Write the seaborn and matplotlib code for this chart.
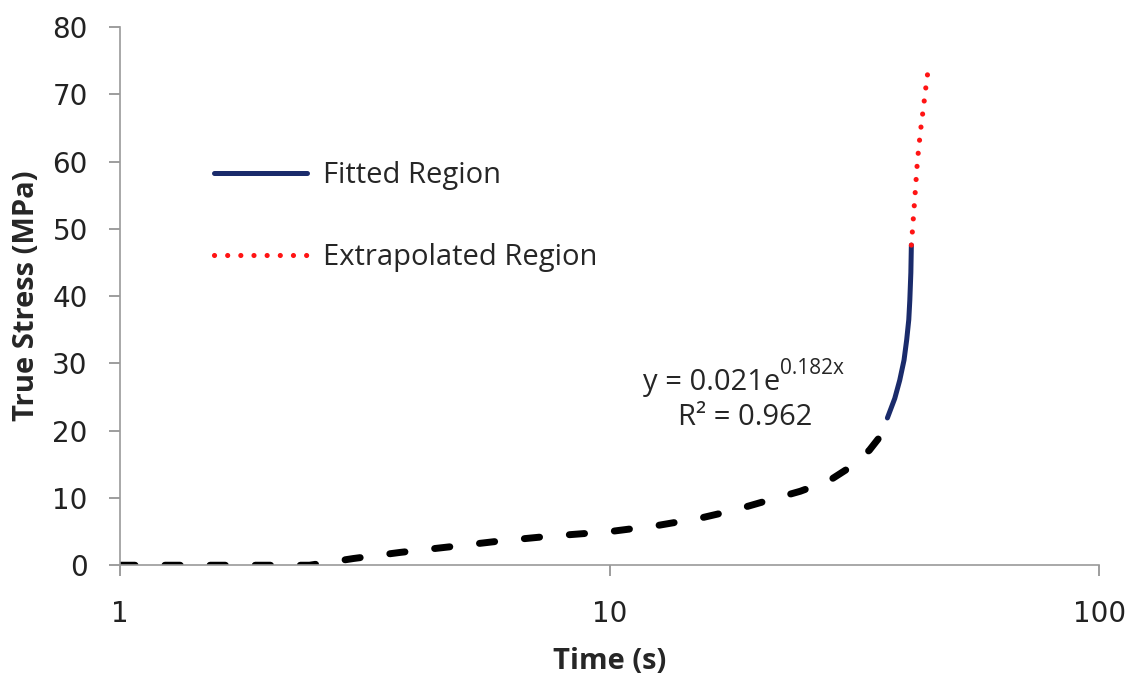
import numpy as np
import pandas as pd
import seaborn as sns
import matplotlib.pyplot as plt

# values
meas_t = [1.0, 1.5, 2.0, 2.44, 3.0, 3.73, 4.8, 5.97, 7.5, 10.0, 12.5, 15.3, 18.0, 21.2, 24.5, 28.1, 31.0, 33.9, 35.8, 37.3]
meas_s = [0.0, 0.0, 0.0, 0.0, 1.0, 1.9, 2.8, 3.6, 4.3, 5.0, 5.9, 7.0, 8.2, 9.7, 11.0, 12.6, 14.6, 17.1, 19.3, 21.6]

fit_t = [36.9, 38.2, 39.1, 39.9, 40.4, 40.8, 41.0, 41.2, 41.3]
fit_s = [21.9, 24.8, 27.5, 30.5, 33.5, 36.5, 39.4, 43.5, 47.6]

extra_t = [41.3, 41.9, 42.5, 43.1, 43.7, 44.2, 44.6]
extra_s = [47.6, 53.8, 60.2, 64.5, 68.0, 71.0, 73.2]

sns.set_style("ticks")
plt.rcParams["font.family"] = ["Open Sans", "DejaVu Sans"]
plt.rcParams["mathtext.default"] = "regular"

fig, ax = plt.subplots(figsize=(11.3, 6.81), dpi=100)
fig.subplots_adjust(left=0.106, right=0.973, bottom=0.170, top=0.960)

df_m = pd.DataFrame({"t": meas_t, "s": meas_s})
df_f = pd.DataFrame({"t": fit_t, "s": fit_s})
df_e = pd.DataFrame({"t": extra_t, "s": extra_s})

sns.lineplot(data=df_m, x="t", y="s", ax=ax, color="black", lw=5,
             sort=False, zorder=2)
ax.lines[-1].set_linestyle((0, (2.2, 4.3)))
ax.lines[-1].set_dash_capstyle("round")
sns.lineplot(data=df_f, x="t", y="s", ax=ax, color="#1a2b6b", lw=3.6,
             sort=False, label="Fitted Region", zorder=3)
ax.lines[-1].set_solid_capstyle("round")
sns.lineplot(data=df_e, x="t", y="s", ax=ax, color="#ff1414", lw=3.7,
             sort=False, label="Extrapolated Region", zorder=3)
ax.lines[-1].set_linestyle((0, (0.01, 2.55)))
ax.lines[-1].set_dash_capstyle("round")

ax.set_xscale("log")
ax.set_xlim(1, 100)
ax.set_ylim(0, 80)
ax.set_yticks(range(0, 81, 10))
ax.set_xticks([1, 10, 100])
ax.set_xticklabels(["1", "10", "100"])
ax.minorticks_off()
ax.tick_params(axis="both", colors="#8c8c8c", length=8, width=1.2,
               labelcolor="#222222")
ax.tick_params(axis="y", pad=15)
ax.tick_params(axis="x", pad=17)
for lab in ax.get_xticklabels() + ax.get_yticklabels():
    lab.set_fontfamily("DejaVu Sans")
    lab.set_fontsize(20)
for side in ["top", "right"]:
    ax.spines[side].set_visible(False)
for side in ["left", "bottom"]:
    ax.spines[side].set_color("#9a9a9a")
    ax.spines[side].set_linewidth(1.2)

ax.set_xlabel("Time (s)", fontsize=21, fontweight="bold", labelpad=14)
ax.set_ylabel("True Stress (MPa)", fontsize=21, fontweight="bold", labelpad=8)

h, l = ax.get_legend_handles_labels()
ax.legend(h, l, loc="upper left", bbox_to_anchor=(0.069, 0.80), frameon=False,
          fontsize=21, handlelength=3.2, handletextpad=0.55, labelspacing=1.82)

t1 = ax.text(0.534, 0.325, "y = 0.021e", transform=ax.transAxes,
             ha="left", va="baseline", fontsize=21)
ax.annotate("0.182x", xy=(1.0, 0.62), xycoords=t1, ha="left", va="bottom",
            fontsize=15)
ax.text(0.638, 0.26, "R² = 0.962", transform=ax.transAxes,
        ha="center", va="baseline", fontsize=21)

fig.savefig("out.png", dpi=100)
